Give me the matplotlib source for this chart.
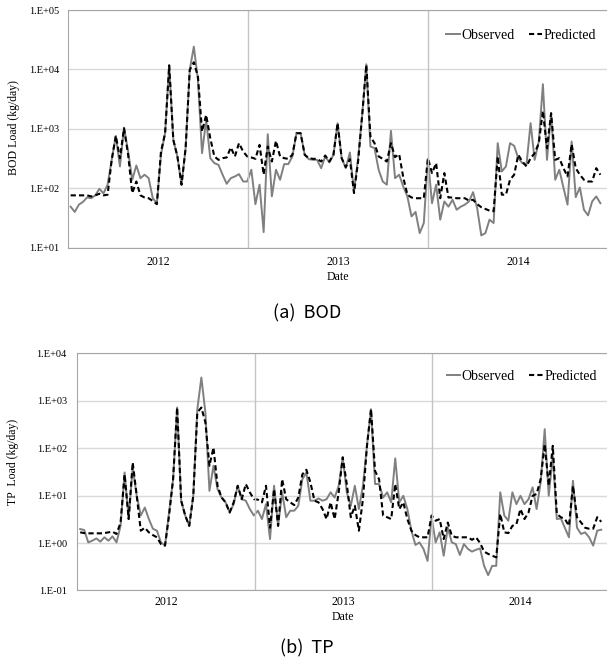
import numpy as np
import pandas as pd
import matplotlib
matplotlib.use('Agg')
import matplotlib.pyplot as plt
from matplotlib.ticker import FuncFormatter, NullLocator

# BOD load (kg/day)
bod_obs = [49, 40, 53, 59, 70, 68, 76, 98, 82, 115,
           301, 762, 233, 1050, 416, 139, 242, 148, 169, 148,
           68, 56, 366, 845, 11900, 653, 343, 115, 473, 9810,
           24200, 6660, 390, 1416, 321, 265, 248, 169, 119, 148,
           158, 173, 130, 130, 205, 54, 115, 18.3, 813, 73,
           205, 139, 255, 255, 343, 845, 845, 366, 309, 301,
           301, 218, 343, 272, 366, 1245, 321, 218, 400, 88,
           321, 1718, 12200, 505, 473, 205, 130, 115, 925, 148,
           169, 107, 73, 33.6, 40, 17.6, 26, 313, 56, 115,
           29.6, 60, 49, 64, 43.5, 49, 53, 60, 86, 46,
           16.1, 17.6, 29.6, 26, 574, 192, 233, 574, 518, 321,
           265, 248, 1245, 301, 612, 5630, 301, 1833, 139, 205,
           103, 53, 612, 71, 103, 43.5, 35, 60, 73, 56]
bod_pred = [76, 76, 76, 76, 76, 73, 76, 81, 76, 78,
            301, 762, 321, 1020, 366, 83, 130, 76, 70, 68,
            61, 54, 416, 845, 11600, 653, 343, 115, 473, 9810,
            13200, 7580, 902, 1718, 697, 343, 301, 321, 330, 486,
            343, 574, 416, 343, 330, 313, 538, 170, 505, 282,
            628, 343, 321, 313, 366, 845, 845, 366, 321, 313,
            313, 282, 356, 282, 366, 1245, 321, 227, 309, 83,
            282, 1718, 11900, 743, 574, 343, 313, 282, 574, 335,
            375, 152, 78, 70, 68, 68, 68, 321, 180, 265,
            68, 180, 70, 70, 68, 68, 68, 62, 64, 54,
            48, 45, 42, 41, 343, 78, 78, 139, 169, 366,
            282, 233, 321, 390, 574, 2010, 473, 1833, 301, 321,
            218, 158, 552, 218, 169, 139, 130, 130, 218, 169]

# TP load (kg/day)
tp_obs = [1.97, 1.88, 1.03, 1.12, 1.25, 1.07, 1.32, 1.12, 1.38, 1.03,
          2.3, 30.7, 3.2, 39, 9.9, 3.8, 5.6, 3.2, 2.0, 1.82,
          1.03, 0.88, 4.4, 22, 718, 7.8, 3.8, 2.3, 9.9, 662,
          3076, 564, 12.6, 42.5, 13.7, 9.1, 7.2, 4.4, 6.6, 16.1,
          8.4, 7.8, 5.2, 3.8, 4.8, 3.2, 6.6, 1.21, 16.1, 2.3,
          11.7, 3.5, 4.8, 4.8, 6.1, 22, 30.7, 7.8, 7.8, 8.7,
          7.8, 8.4, 11.7, 9.1, 16.1, 64, 11.7, 6.1, 16.1, 5.2,
          16.1, 112, 662, 17.5, 17.5, 9.1, 11.7, 7.2, 60.6, 7.2,
          9.9, 5.2, 1.82, 0.91, 1.03, 0.75, 0.42, 3.5, 1.03, 1.68,
          0.54, 2.1, 1.03, 0.95, 0.56, 0.95, 0.75, 0.66, 0.72, 0.77,
          0.33, 0.21, 0.33, 0.33, 11.7, 3.8, 2.95, 11.7, 6.6, 9.9,
          6.6, 8.4, 14.9, 5.2, 18.9, 251, 9.9, 69, 3.2, 3.3,
          2.1, 1.32, 20.5, 2.1, 1.55, 1.68, 1.32, 0.88, 1.82, 1.91]
tp_pred = [1.68, 1.62, 1.60, 1.60, 1.60, 1.60, 1.62, 1.68, 1.73, 1.55,
           2.7, 28, 3.2, 50, 9.9, 1.82, 2.1, 1.68, 1.47, 1.32,
           0.95, 0.88, 3.8, 22, 718, 7.8, 3.8, 2.3, 9.9, 564,
           718, 347, 42.5, 103, 16.1, 9.1, 7.2, 4.4, 7.2, 16.1,
           8.4, 17.5, 11.7, 8.4, 8.2, 7.2, 16.1, 2.1, 13.7, 2.3,
           22, 8.4, 7.2, 6.3, 9.1, 28, 35, 18.9, 7.8, 7.2,
           5.2, 3.2, 7.2, 3.2, 11.7, 64, 17.5, 3.5, 6.1, 1.82,
           8.4, 112, 662, 33, 22, 3.8, 3.5, 3.2, 17.5, 5.2,
           7.2, 3.2, 1.82, 1.47, 1.32, 1.32, 1.32, 3.8, 2.95, 3.2,
           1.21, 2.7, 1.43, 1.32, 1.32, 1.32, 1.32, 1.17, 1.32, 1.0,
           0.66, 0.59, 0.54, 0.50, 4.1, 1.68, 1.62, 2.3, 2.5, 5.2,
           3.2, 4.4, 9.9, 10.8, 22, 121, 16.1, 112, 4.1, 3.5,
           3.2, 2.3, 16.1, 3.5, 2.7, 2.1, 2.0, 2.0, 3.5, 2.8]

years = [2012, 2013, 2014]
dates = pd.date_range('2012-01-07', '2014-12-16', periods=len(bod_obs))

plt.rcParams['font.family'] = ['Liberation Serif', 'DejaVu Serif']

fig = plt.figure(figsize=(6.07, 6.63), dpi=100)
ax1 = fig.add_axes([0.1115, 0.6264, 0.8906, 0.3585])
ax2 = fig.add_axes([0.1273, 0.1094, 0.876, 0.3578])


def sci_fmt(v, pos):
    return '1.E%+03d' % int(round(np.log10(v)))


def style(ax, obs, pred, ylim, ylabel, ypad, xpad, lab_x, lab_y, leg_anchor):
    ax.plot(dates, obs, color='#808080', lw=1.4, label='Observed')
    ax.plot(dates, pred, color='black', lw=1.5, ls=(0, (2.5, 1.5)), label='Predicted')
    ax.set_yscale('log')
    ax.set_ylim(ylim)
    ax.yaxis.set_minor_locator(NullLocator())
    ax.yaxis.set_major_formatter(FuncFormatter(sci_fmt))
    ax.set_xlim(pd.Timestamp('2012-01-01'), pd.Timestamp('2015-01-01'))
    ax.set_xticks([pd.Timestamp(f'{y}-07-02') for y in years])
    ax.set_xticklabels([str(y) for y in years])
    ax.tick_params(axis='x', length=0, pad=xpad, labelsize=8.5)
    ax.tick_params(axis='y', length=0, pad=ypad, labelsize=7.5)
    ax.grid(axis='y', color='#d9d9d9', lw=1)
    for y in years[1:]:
        ax.axvline(pd.Timestamp(f'{y}-01-01'), color='#c4c4c4', lw=1)
    for s in ax.spines.values():
        s.set_color('#a6a6a6')
    ax.spines['right'].set_visible(False)
    ax.set_axisbelow(True)
    ax.set_xlabel('Date', fontsize=8.5, labelpad=2)
    ax.set_ylabel(ylabel, fontsize=8.5)
    ax.yaxis.set_label_coords(lab_x, lab_y)
    ax.legend(loc='upper right', bbox_to_anchor=leg_anchor, ncol=2, frameon=False,
              fontsize=10, handlelength=1.0, handletextpad=0.1, columnspacing=1.0,
              borderpad=0, borderaxespad=0)


style(ax1, bod_obs, bod_pred, (1e1, 1e5), 'BOD Load (kg/day)', 6, 6,
      -0.088, 0.504, (0.978, 0.92))
style(ax2, tp_obs, tp_pred, (1e-1, 1e4), 'TP  Load (kg/day)', 7.5, 4,
      -0.109, 0.542, (0.977, 0.93))

fig.text(0.506, 0.528, '(a)  BOD', ha='center', va='center', fontsize=13,
         family=['Noto Sans CJK KR', 'DejaVu Sans'])
fig.text(0.506, 0.0226, '(b)  TP', ha='center', va='center', fontsize=13,
         family=['Noto Sans CJK KR', 'DejaVu Sans'])

fig.savefig('out.png', dpi=100)
